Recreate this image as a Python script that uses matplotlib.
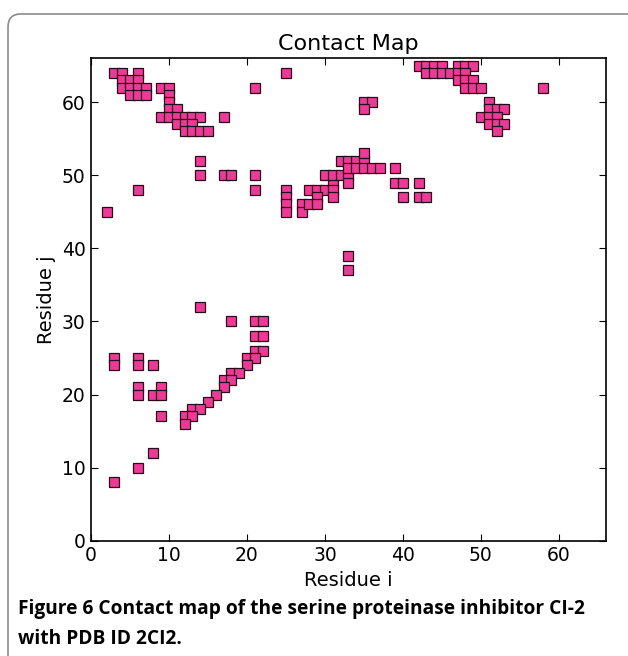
import matplotlib
matplotlib.use('Agg')
import matplotlib.pyplot as plt
from matplotlib.patches import FancyBboxPatch

# Contact pairs (residue i, residue j)
residue_i = [3, 4, 6, 4, 5, 6, 4, 5, 6, 7, 5, 6, 7,
             9, 10, 10, 10, 10, 11, 9, 10, 11, 12, 13, 14,
             11, 12, 13, 12, 13, 14, 15, 17, 21, 25,
             14, 14, 17, 18, 21, 6, 21, 2,
             25, 25, 25, 25, 27, 27, 28, 28, 29, 30, 29, 29,
             31, 31, 31, 30, 31, 32, 33, 33,
             32, 33, 34, 35, 35, 33, 34, 35, 36, 37, 39,
             39, 40, 42, 40, 42, 43, 35, 36, 35, 33, 33,
             42, 43, 44, 45, 47, 48, 49, 43, 44, 45, 46, 47, 48,
             47, 48, 49, 48, 49, 50, 58, 51, 51, 52, 53,
             50, 51, 52, 51, 52, 53, 52,
             14, 18, 21, 22, 21, 22, 21, 22, 20, 21, 20,
             18, 19, 17, 18, 17, 16, 15, 13, 14, 12, 13, 12,
             3, 3, 6, 6, 8, 6, 6, 8, 9, 9, 9, 8, 6, 3]
residue_j = [64, 64, 64, 63, 63, 63, 62, 62, 62, 62, 61, 61, 61,
             62, 62, 61, 60, 59, 59, 58, 58, 58, 58, 58, 58,
             57, 57, 57, 56, 56, 56, 56, 58, 62, 64,
             52, 50, 50, 50, 50, 48, 48, 45,
             48, 47, 46, 45, 46, 45, 46, 48, 48, 48, 47, 46,
             49, 48, 47, 50, 50, 50, 50, 49,
             52, 52, 52, 52, 53, 51, 51, 51, 51, 51, 51,
             49, 49, 49, 47, 47, 47, 60, 60, 59, 39, 37,
             65, 65, 65, 65, 65, 65, 65, 64, 64, 64, 64, 64, 64,
             63, 63, 63, 62, 62, 62, 62, 60, 59, 59, 59,
             58, 58, 58, 57, 57, 57, 56,
             32, 30, 30, 30, 28, 28, 26, 26, 25, 25, 24,
             23, 23, 22, 22, 21, 20, 19, 18, 18, 17, 17, 16,
             25, 24, 25, 24, 24, 21, 20, 20, 21, 20, 17, 12, 10, 8]

caption = ('Figure 6 Contact map of the serine proteinase inhibitor CI-2\n'
           'with PDB ID 2CI2.')

# Create Figure and Axes
figure = plt.figure(figsize=(6.28, 6.56), dpi=100, facecolor='white')
axes0 = figure.add_axes([0.1449, 0.1758, 0.8196, 0.7353])

# rounded frame around the whole figure
frame = FancyBboxPatch((8 / 628, -0.1), 1.2, 1.1 - 14 / 656,
                       boxstyle='round,pad=0,rounding_size=0.02',
                       transform=figure.transFigure, fill=False,
                       edgecolor='#8c8c8c', linewidth=1.2)
figure.patches.append(frame)

axes0.plot(residue_i, residue_j, linestyle='none', marker='s', markersize=7.8,
           markerfacecolor='#ee3a97', markeredgecolor='#2a0a18',
           markeredgewidth=0.9)

# Axis settings
axes0.set_xlim(0, 66)
axes0.set_ylim(0, 66)
axes0.set_xticks(range(0, 61, 10))
axes0.set_yticks(range(0, 61, 10))
axes0.tick_params(direction='in', top=True, right=True, length=5,
                  labelsize=13.5, pad=4)
for s in axes0.spines.values():
    s.set_linewidth(1.2)
axes0.set_title('Contact Map', fontsize=16, pad=6)
axes0.set_xlabel('Residue i', fontsize=14, labelpad=4)
axes0.set_ylabel('Residue j', fontsize=14, labelpad=4)

figure.text(18 / 628, 1 - 599 / 656, caption, fontsize=13.8, fontweight='bold',
            family=['Open Sans', 'DejaVu Sans'], va='top', ha='left',
            linespacing=1.65)

figure.savefig('out.png', dpi=100)
